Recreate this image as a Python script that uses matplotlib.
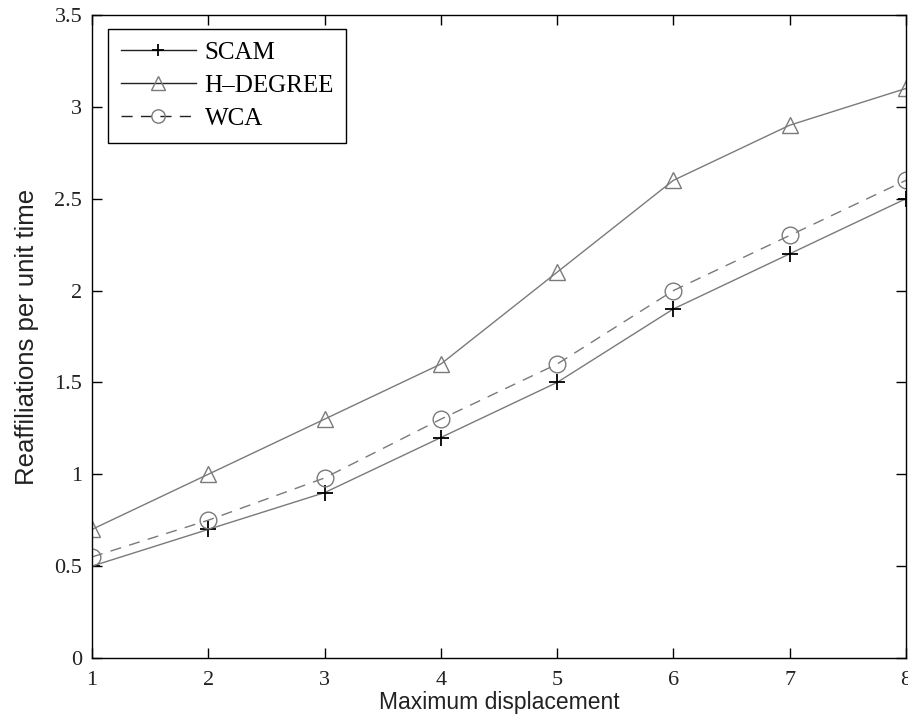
import matplotlib

matplotlib.use("Agg")
import matplotlib.pyplot as plt
from matplotlib.ticker import FuncFormatter

# values
displacement = [1, 2, 3, 4, 5, 6, 7, 8]
scam = [0.5, 0.7, 0.9, 1.2, 1.5, 1.9, 2.2, 2.5]
h_degree = [0.7, 1.0, 1.3, 1.6, 2.1, 2.6, 2.9, 3.1]
wca = [0.55, 0.75, 0.98, 1.3, 1.6, 2.0, 2.3, 2.6]
y_ticks = [0, 0.5, 1, 1.5, 2, 2.5, 3, 3.5]

SERIF = "Liberation Serif"
SANS = "Liberation Sans"
LINE = "#7a7a7a"

fig = plt.figure(figsize=(9.08, 7.23), dpi=100)
ax = fig.add_axes([0.1013, 0.0899, 0.8965, 0.8894])

ax.plot(displacement, scam, color=LINE, lw=1.0, marker="+", ms=11,
        mec="black", mew=1.3, label="SCAM")
ax.plot(displacement, h_degree, color=LINE, lw=1.0, marker="^", ms=12,
        mfc="none", mec=LINE, mew=1.0, label="H\u2013DEGREE")
ax.plot(displacement, wca, color=LINE, lw=1.0, ls=(0, (8, 6)), marker="o", ms=12,
        mfc="none", mec=LINE, mew=1.0, label="WCA")

ax.set_xlim(1, 8)
ax.set_ylim(0, 3.5)
ax.set_xticks(displacement)
ax.set_yticks(y_ticks)
ax.yaxis.set_major_formatter(FuncFormatter(lambda v, _: f"{v:g}"))

ax.tick_params(direction="in", length=7, width=1.0, top=True, right=True,
               labelsize=16, colors="black", labelcolor="#222222")
ax.tick_params(axis="x", pad=9)
ax.tick_params(axis="y", pad=7)
for lab in ax.get_xticklabels() + ax.get_yticklabels():
    lab.set_fontfamily(SERIF)
for spine in ax.spines.values():
    spine.set_linewidth(1.0)
    spine.set_color("black")

ax.set_xlabel("Maximum displacement", fontfamily=SANS, fontsize=16.5,
              color="#222222", labelpad=1)
ax.set_ylabel("Reaffiliations per unit time", fontfamily=SANS, fontsize=18.5,
              color="#222222", labelpad=11)

leg = ax.legend(loc="upper left", bbox_to_anchor=(0.0197, 0.978), borderaxespad=0,
                prop={"family": SERIF, "size": 18}, handlelength=3.0,
                handletextpad=0.36, labelspacing=0.42, borderpad=0.5,
                markerscale=0.8, fancybox=False, framealpha=1, edgecolor="black")
leg.get_frame().set_linewidth(1.0)
for line in leg.get_lines():
    line.set_color("#222222")

fig.savefig("out.png", dpi=100)
